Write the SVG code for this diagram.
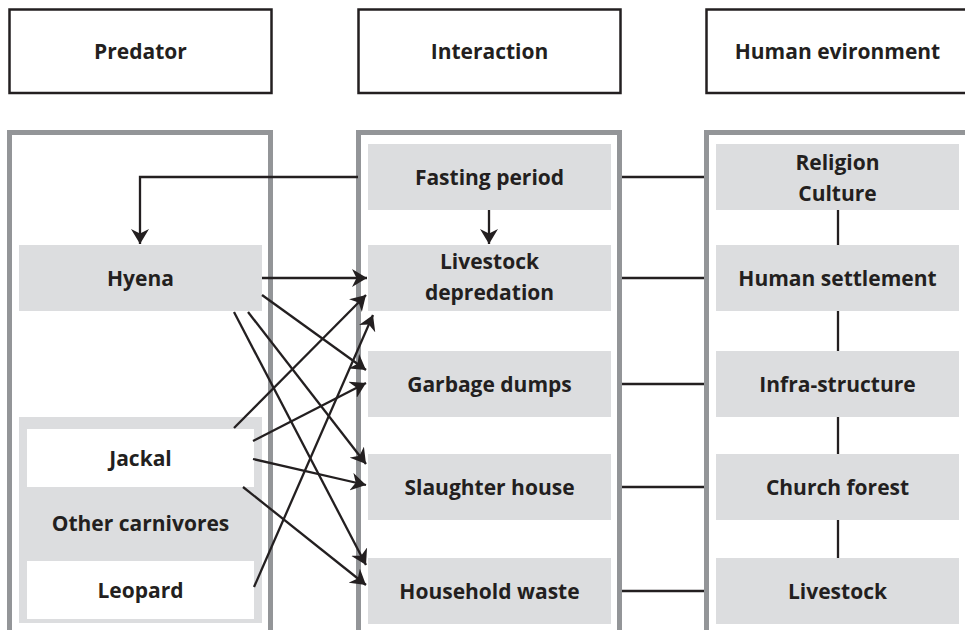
<svg xmlns="http://www.w3.org/2000/svg" width="965" height="630" viewBox="0 0 965 630">
<style>
text{font-family:"Open Sans","Noto Sans","Liberation Sans",sans-serif;font-weight:700;font-size:21px;fill:#231f20;text-anchor:middle}
.hdr{fill:#fff;stroke:#231f20;stroke-width:2.5}
.col{fill:#fff;stroke:#939598;stroke-width:5}
.box{fill:#dcdddf}
.wbox{fill:#fff}
.ln{fill:none;stroke:#231f20;stroke-width:2.3}
.ar{fill:none;stroke:#231f20;stroke-width:2.3;marker-end:url(#ah)}
</style>
<defs>
<marker id="ah" markerUnits="userSpaceOnUse" markerWidth="16" markerHeight="18" refX="15" refY="9" orient="auto">
<path d="M0,0 L15,9 L0,18 L4.5,9 Z" fill="#231f20"/>
</marker>
</defs>
<g id="headers">
<g id="hdr-predator"><rect class="hdr" x="9.5" y="9.5" width="262" height="83.5"/><text x="140.5" y="59">Predator</text></g>
<g id="hdr-interaction"><rect class="hdr" x="358.5" y="9.5" width="262" height="83.5"/><text x="489.5" y="59">Interaction</text></g>
<g id="hdr-human"><rect class="hdr" x="706.5" y="9.5" width="300" height="83.5"/><text x="837.5" y="59">Human evironment</text></g>
</g>
<g id="columns">
<rect id="col-predator" class="col" x="9.5" y="132.5" width="261" height="520"/>
<rect id="col-interaction" class="col" x="358.5" y="132.5" width="261" height="520"/>
<rect id="col-human" class="col" x="706.5" y="132.5" width="300" height="520"/>
</g>
<g id="hyena"><rect class="box" x="19" y="245" width="243" height="66"/><text x="140.5" y="286">Hyena</text></g>
<g id="carnivore-group">
<rect class="box" x="19" y="417" width="243" height="206"/>
<g id="jackal"><rect class="wbox" x="27" y="429" width="227" height="58"/><text x="140.5" y="466">Jackal</text></g>
<g id="other-carnivores"><text x="140.5" y="531">Other carnivores</text></g>
<g id="leopard"><rect class="wbox" x="27" y="561" width="227" height="58"/><text x="140.5" y="598">Leopard</text></g>
</g>
<g id="fasting"><rect class="box" x="368" y="144" width="243" height="66"/><text x="489.5" y="185">Fasting period</text></g>
<g id="depredation"><rect class="box" x="368" y="245" width="243" height="66"/><text x="489.5" y="269">Livestock</text><text x="489.5" y="300">depredation</text></g>
<g id="garbage"><rect class="box" x="368" y="351" width="243" height="66"/><text x="489.5" y="392">Garbage dumps</text></g>
<g id="slaughter"><rect class="box" x="368" y="454" width="243" height="66"/><text x="489.5" y="495">Slaughter house</text></g>
<g id="household"><rect class="box" x="368" y="558" width="243" height="66"/><text x="489.5" y="599">Household waste</text></g>
<g id="religion"><rect class="box" x="716" y="144" width="243" height="66"/><text x="837.5" y="170">Religion</text><text x="837.5" y="201">Culture</text></g>
<g id="settlement"><rect class="box" x="716" y="245" width="243" height="66"/><text x="837.5" y="286">Human settlement</text></g>
<g id="infra"><rect class="box" x="716" y="351" width="243" height="66"/><text x="837.5" y="392">Infra-structure</text></g>
<g id="church"><rect class="box" x="716" y="454" width="243" height="66"/><text x="837.5" y="495">Church forest</text></g>
<g id="livestock"><rect class="box" x="716" y="558" width="243" height="66"/><text x="837.5" y="599">Livestock</text></g>
<g id="connectors">
<polyline class="ar" points="358,177 140,177 140,244"/>
<line class="ar" x1="489" y1="210" x2="489" y2="244"/>
<line class="ar" x1="262" y1="278" x2="367" y2="278"/>
<line class="ar" x1="262" y1="295" x2="366" y2="370"/>
<line class="ar" x1="248" y1="312" x2="366" y2="464"/>
<line class="ar" x1="234" y1="312" x2="366" y2="565"/>
<line class="ar" x1="234" y1="428" x2="366" y2="295"/>
<line class="ar" x1="253" y1="441" x2="366" y2="383"/>
<line class="ar" x1="253" y1="459" x2="366" y2="485"/>
<line class="ar" x1="243" y1="487" x2="366" y2="585"/>
<line class="ar" x1="254" y1="587" x2="373" y2="315"/>
<line class="ln" x1="622" y1="177" x2="704" y2="177"/>
<line class="ln" x1="622" y1="278" x2="704" y2="278"/>
<line class="ln" x1="622" y1="384" x2="704" y2="384"/>
<line class="ln" x1="622" y1="487" x2="704" y2="487"/>
<line class="ln" x1="622" y1="591" x2="704" y2="591"/>
<line class="ln" x1="838" y1="210" x2="838" y2="245"/>
<line class="ln" x1="838" y1="311" x2="838" y2="351"/>
<line class="ln" x1="838" y1="417" x2="838" y2="454"/>
<line class="ln" x1="838" y1="520" x2="838" y2="558"/>
</g>
</svg>
